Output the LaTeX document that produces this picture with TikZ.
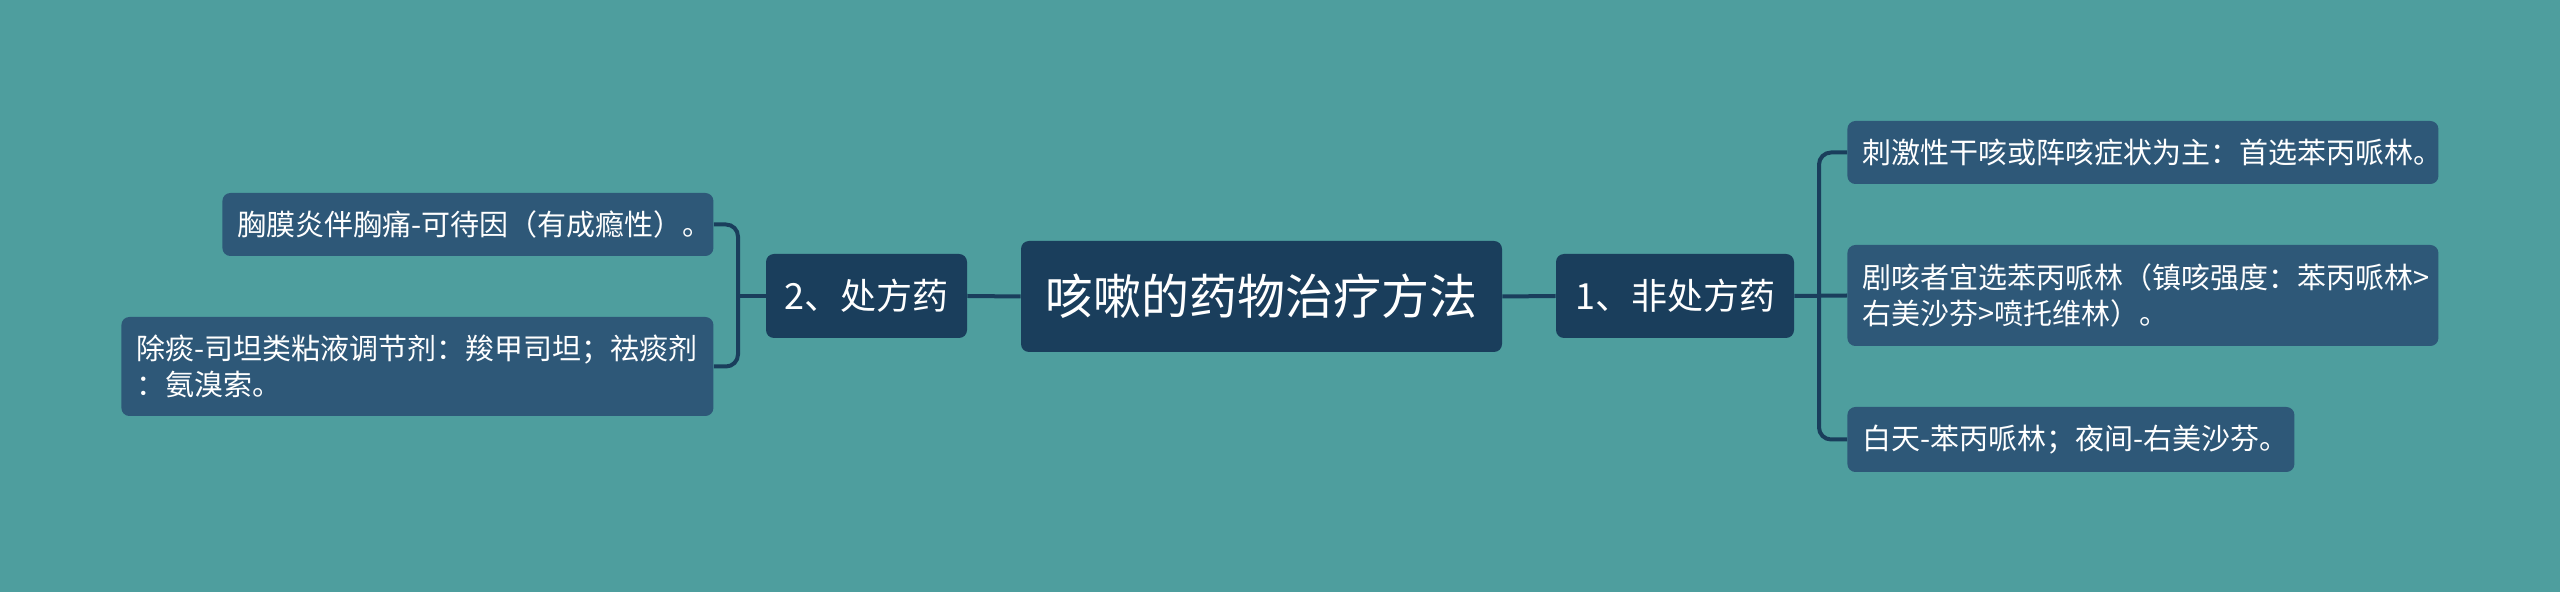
\documentclass[tikz,border=0pt]{standalone}
\usepackage{fontspec}
\setmainfont{Noto Sans CJK SC}
\exhyphenpenalty=10000
\hyphenpenalty=10000
\definecolor{bg}{RGB}{78,158,158}
\definecolor{dark}{RGB}{26,62,92}
\definecolor{leaf}{RGB}{46,88,120}
\tikzset{
  mainbox/.style={fill=dark, text=white, rounded corners=4pt, inner sep=0pt, font=\fontsize{24pt}{28pt}\selectfont},
  midbox/.style={fill=dark, text=white, rounded corners=4pt, inner sep=0pt, font=\fontsize{18pt}{22pt}\selectfont},
  leafbox/.style={fill=leaf, text=white, rounded corners=4pt, anchor=west, inner xsep=7.5pt, inner ysep=0pt, align=left, font=\fontsize{14.5pt}{18pt}\selectfont},
  conn/.style={draw=dark, line width=2pt},
  bracket/.style={conn, rounded corners=6pt}
}
\begin{document}
\begin{tikzpicture}[x=0.5pt,y=-0.5pt]
\path[fill=bg] (0,0) rectangle (2560,592);
\node[mainbox, minimum width=240.5pt, minimum height=55.5pt] (c) at (1261.5,296.5) {咳嗽的药物治疗方法};
\node[midbox, minimum width=119pt, minimum height=42pt] (n1) at (1675,296) {1、非处方药};
\node[midbox, minimum width=100.5pt, minimum height=42pt] (n2) at (866.5,296) {2、处方药};
\node[leafbox, text width=280.5pt, minimum height=31.5pt] (b1) at (1847,152.5) {\mbox{刺激性干咳或阵咳症状为主：首选苯丙哌林。}};
\node[leafbox, text width=280.5pt, minimum height=50.5pt] (b2) at (1847,295.5) {\mbox{剧咳者宜选苯丙哌林（镇咳强度：苯丙哌林>}\\\mbox{右美沙芬>喷托维林）。}};
\node[leafbox, text width=208.5pt, minimum height=32.5pt] (b3) at (1847,439.5) {\mbox{白天-苯丙哌林；夜间-右美沙芬。}};
\node[leafbox, text width=230.5pt, minimum height=31.5pt] (l1) at (222,224.5) {\mbox{胸膜炎伴胸痛-可待因（有成瘾性）。}};
\node[leafbox, text width=281pt, minimum height=49.5pt] (l2) at (121,366.5) {\mbox{除痰-司坦类粘液调节剂：羧甲司坦；祛痰剂}\\\mbox{：氨溴索。}};
\coordinate (jr) at (1819,296);
\coordinate (jl) at (738,296);
\draw[conn] (c.east) -- (n1.west);
\draw[conn] (c.west) -- (n2.east);
\draw[conn] (n1.east) -- (b2.west);
\draw[bracket] (jr) |- (b1.west);
\draw[bracket] (jr) |- (b3.west);
\draw[conn] (n2.west) -- (jl);
\draw[bracket] (jl) |- (l1.east);
\draw[bracket] (jl) |- (l2.east);
\end{tikzpicture}
\end{document}
